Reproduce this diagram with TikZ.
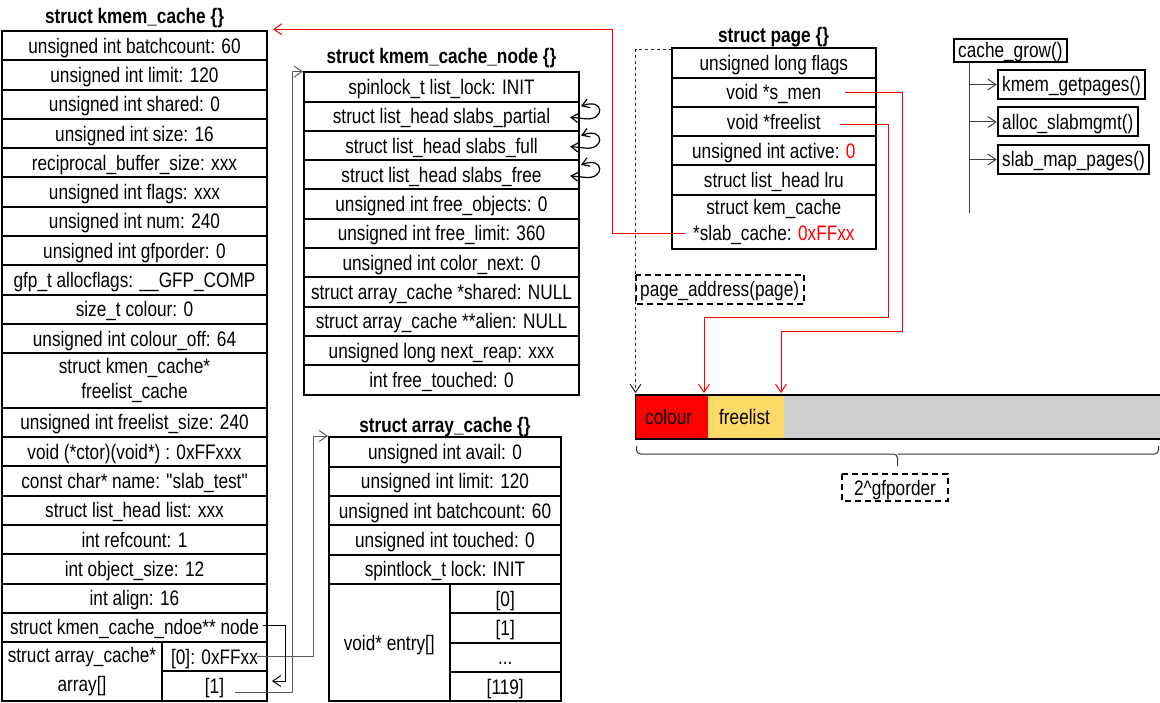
\documentclass[tikz,border=0pt]{standalone}
\usepackage{fontspec}
\setmainfont{Liberation Sans}[FakeStretch=0.82,Ligatures=TeXOff]
\usetikzlibrary{arrows.meta}
\definecolor{barred}{HTML}{FF0000}
\definecolor{baryellow}{HTML}{FFD966}
\definecolor{bargray}{HTML}{D0CECE}
\newcommand\kmcell[6]{%
  \draw[cell] (#2,#3) rectangle (#4,#5);
  \node[lbl] (#1) at ({(#2+#4)/2},{(#3+#5)/2}) {#6};}
\newcommand\kmcelltwo[6]{%
  \draw[cell] (#2,#3) rectangle (#4,#5);
  \node[lbltwo] (#1) at ({(#2+#4)/2},{(#3+#5)/2}) {#6};}
\begin{document}
\begin{tikzpicture}[x=1pt,y=-1pt,
  cell/.style={draw=black,line width=2pt},
  lbl/.style={inner sep=0pt,font=\fontsize{21}{25}\selectfont,text height=15pt,text depth=0pt},
  lbltwo/.style={inner sep=0pt,font=\fontsize{21}{25}\selectfont,align=center},
  ttl/.style={inner sep=0pt,font=\fontsize{21}{25}\selectfont\bfseries,text height=15pt,text depth=0pt},
  fnbox/.style={draw=black,line width=2pt,inner xsep=4.5pt,inner ysep=0pt,minimum height=29pt,
    font=\fontsize{21}{25}\selectfont,text height=15pt,text depth=0pt,anchor=west},
  dashbox/.style={draw=black,line width=2pt,dash pattern=on 6pt off 4pt},
  tipv/.style={-{Straight Barb[length=8pt,width=11pt]}},
  redconn/.style={draw=red,line width=1pt,tipv},
  blkconn/.style={draw=black!65,line width=1pt,tipv},
  loopconn/.style={draw=black,line width=1.2pt,{Straight Barb[length=7pt,width=9pt]}-{Straight Barb[length=7pt,width=9pt]}},
  treeline/.style={draw=black!75,line width=1pt},
  dasharrow/.style={draw=black!85,line width=1pt,dash pattern=on 3pt off 3pt,tipv}]
\useasboundingbox (0,0) rectangle (1160,703);

% ---------- struct kmem_cache ----------
\node[ttl] (kctitle) at (134.5,16) {struct kmem\_cache \{\}};
\kmcell{kc1}{2}{31}{267}{60.3}{unsigned int batchcount: 60}
\kmcell{kc2}{2}{60.3}{267}{89.6}{unsigned int limit: 120}
\kmcell{kc3}{2}{89.6}{267}{118.9}{unsigned int shared: 0}
\kmcell{kc4}{2}{118.9}{267}{148.2}{unsigned int size: 16}
\kmcell{kc5}{2}{148.2}{267}{177.5}{reciprocal\_buffer\_size: xxx}
\kmcell{kc6}{2}{177.5}{267}{206.8}{unsigned int flags: xxx}
\kmcell{kc7}{2}{206.8}{267}{236.1}{unsigned int num: 240}
\kmcell{kc8}{2}{236.1}{267}{265.4}{unsigned int gfporder: 0}
\kmcell{kc9}{2}{265.4}{267}{294.7}{gfp\_t allocflags: \_\_GFP\_COMP}
\kmcell{kc10}{2}{294.7}{267}{324}{size\_t colour: 0}
\kmcell{kc11}{2}{324}{267}{353.3}{unsigned int colour\_off: 64}
\kmcelltwo{kc12}{2}{353.3}{267}{407.7}{struct kmen\_cache*\\freelist\_cache}
\kmcell{kc13}{2}{407.7}{267}{437}{unsigned int freelist\_size: 240}
\kmcell{kc14}{2}{437}{267}{466.3}{void (*ctor)(void*) : 0xFFxxx}
\kmcell{kc15}{2}{466.3}{267}{495.6}{const char* name: "slab\_test"}
\kmcell{kc16}{2}{495.6}{267}{524.9}{struct list\_head list: xxx}
\kmcell{kc17}{2}{524.9}{267}{554.2}{int refcount: 1}
\kmcell{kc18}{2}{554.2}{267}{583.5}{int object\_size: 12}
\kmcell{kc19}{2}{583.5}{267}{612.8}{int align: 16}
\kmcell{kc20}{2}{612.8}{267}{642.1}{struct kmen\_cache\_ndoe** node}
\kmcelltwo{kc21}{2}{642.1}{162}{700.8}{struct array\_cache*\\[4pt]array[]}
\kmcell{kc22}{162}{642.1}{267}{671.4}{[0]: 0xFFxx}
\kmcell{kc23}{162}{671.4}{267}{700.8}{[1]}

% ---------- struct kmem_cache_node ----------
\node[ttl] (kntitle) at (441.5,56.5) {struct kmem\_cache\_node \{\}};
\foreach \t [count=\i, evaluate=\i as \ya using 72.3+29.3*(\i-1), evaluate=\i as \yb using 72.3+29.3*\i] in
  {spinlock\_t list\_lock: INIT, struct list\_head slabs\_partial, struct list\_head slabs\_full,
   struct list\_head slabs\_free, unsigned int free\_objects: 0, unsigned int free\_limit: 360,
   unsigned int color\_next: 0, struct array\_cache *shared: NULL, struct array\_cache **alien: NULL,
   unsigned long next\_reap: xxx, int free\_touched: 0}
  {\kmcell{kn\i}{304}{\ya}{579}{\yb}{\t}}

% ---------- struct array_cache ----------
\node[ttl] (actitle) at (445,424.5) {struct array\_cache \{\}};
\foreach \t [count=\i, evaluate=\i as \ya using 437.3+29.3*(\i-1), evaluate=\i as \yb using 437.3+29.3*\i] in
  {unsigned int avail: 0, unsigned int limit: 120, unsigned int batchcount: 60,
   unsigned int touched: 0, spintlock\_t lock: INIT}
  {\kmcell{ac\i}{329}{\ya}{561}{\yb}{\t}}
\kmcell{ac6}{329}{583.8}{449.5}{701.3}{void* entry[]}
\kmcell{ae1}{449.5}{583.8}{561}{613.2}{[0]}
\kmcell{ae2}{449.5}{613.2}{561}{642.5}{[1]}
\kmcell{ae3}{449.5}{642.5}{561}{671.9}{...}
\kmcell{ae4}{449.5}{671.9}{561}{701.3}{[119]}

% ---------- struct page ----------
\node[ttl] (pgtitle) at (773.5,35) {struct page \{\}};
\kmcell{pg1}{671.7}{48.3}{876}{77.6}{unsigned long flags}
\kmcell{pg2}{671.7}{77.6}{876}{106.9}{void *s\_men}
\kmcell{pg3}{671.7}{106.9}{876}{136.2}{void *freelist}
\kmcell{pg4}{671.7}{136.2}{876}{165.5}{unsigned int active: \textcolor{red}{0}}
\kmcell{pg5}{671.7}{165.5}{876}{194.8}{struct list\_head lru}
\kmcelltwo{pg6}{671.7}{194.8}{876}{249.3}{struct kem\_cache\\[1pt]*slab\_cache: \textcolor{red}{0xFFxx}}

% page_address box
\draw[dashbox] (635.5,275) rectangle (804,304);
\node[lbl,anchor=west] (pa) at (640,289.5) {page\_address(page)};

% ---------- slab bar ----------
\node[fill=barred,inner sep=0pt,minimum width=72pt,minimum height=44pt,anchor=north west] (colseg) at (635.5,395) {};
\node[fill=baryellow,inner sep=0pt,minimum width=76pt,minimum height=44pt,anchor=north west] (flseg) at (707.5,395) {};
\node[fill=bargray,inner sep=0pt,minimum width=378pt,minimum height=44pt,anchor=north west] (restseg) at (783.5,395) {};
\draw[line width=1.3pt] (1161,395) -- (635.5,395) -- (635.5,439) -- (1161,439);
\node[lbl,anchor=west] (coltxt) at (645,417) {colour};
\node[lbl,anchor=west] (fltxt) at (719,417) {freelist};

% brace and 2^gfporder
\draw[line width=1pt,black!80,rounded corners=4pt] (636.5,446) -- (636.5,454) -- (897.5,454) -- (897.5,466);
\draw[line width=1pt,black!80,rounded corners=4pt] (1158.5,446) -- (1158.5,454) -- (897.5,454);
\draw[dashbox] (842,474) rectangle (948,501);
\node[lbl] (gf) at (895,487.5) {2\textasciicircum gfporder};

% ---------- cache_grow tree ----------
\node[fnbox,minimum height=22.4pt] (cg) at (952.7,50.5) {cache\_grow()};
\node[fnbox] (kg) at (996.7,84.5) {kmem\_getpages()};
\node[fnbox] (asm) at (996.7,122) {alloc\_slabmgmt()};
\node[fnbox] (smp) at (996.7,159.5) {slab\_map\_pages()};
\coordinate (trunktop) at (969,61.7);
\coordinate (trunkbot) at (969,213);
\draw[treeline] (trunktop) -- (trunkbot);
\foreach \b in {kg,asm,smp}
  \draw[treeline,tipv] (\b.west -| trunktop) -- (\b.west);

% ---------- connectors ----------
\coordinate (slabstart) at (685,233.5);
\coordinate (redcorner) at (612,29.3);
\coordinate (kcR) at (273,29.3);
\draw[redconn] (slabstart) -| (redcorner) -- (kcR);

\coordinate (smenstart) at (845,92.3);
\coordinate (smenturn) at (902.5,332);
\coordinate (smentip) at (781,393);
\draw[redconn] (smenstart) -| (smenturn) -| (smentip);

\coordinate (flstart) at (840,124.3);
\coordinate (flturn) at (888.5,318);
\coordinate (fltip) at (704,393);
\draw[redconn] (flstart) -| (flturn) -| (fltip);

\coordinate (pgtl) at (671.7,49.5);
\coordinate (bartip) at (635.5,393);
\draw[dasharrow] (pgtl) -| (bartip);

\coordinate (zerostart) at (257,656.7);
\coordinate (zeroturn) at (313.3,436);
\coordinate (actip) at (328,436);
\draw[blkconn] (zerostart) -| (zeroturn) -- (actip);

\coordinate (onestart) at (235,692.7);
\coordinate (oneturn) at (292.3,71.5);
\coordinate (kntip) at (303,71.5);
\draw[blkconn] (onestart) -| (oneturn) -- (kntip);

\coordinate (nodestart) at (263,625.7);
\coordinate (nodeturn) at (285.7,681);
\coordinate (nodetip) at (272,681);
\draw[draw=black,line width=1pt,tipv] (nodestart) -| (nodeturn) -- (nodetip);

% self loops on list heads
\coordinate (knright) at (579,0);
\foreach \n in {kn2,kn3,kn4}{
  \coordinate (\n e) at (\n.center -| knright);
  \draw[loopconn] ([shift={(2,-10)}]\n e) .. controls ([shift={(26,-19)}]\n e) and ([shift={(26,5)}]\n e) .. ([shift={(6,2.5)}]\n e) -- ([shift={(-9,1)}]\n e);
}
\end{tikzpicture}
\end{document}
